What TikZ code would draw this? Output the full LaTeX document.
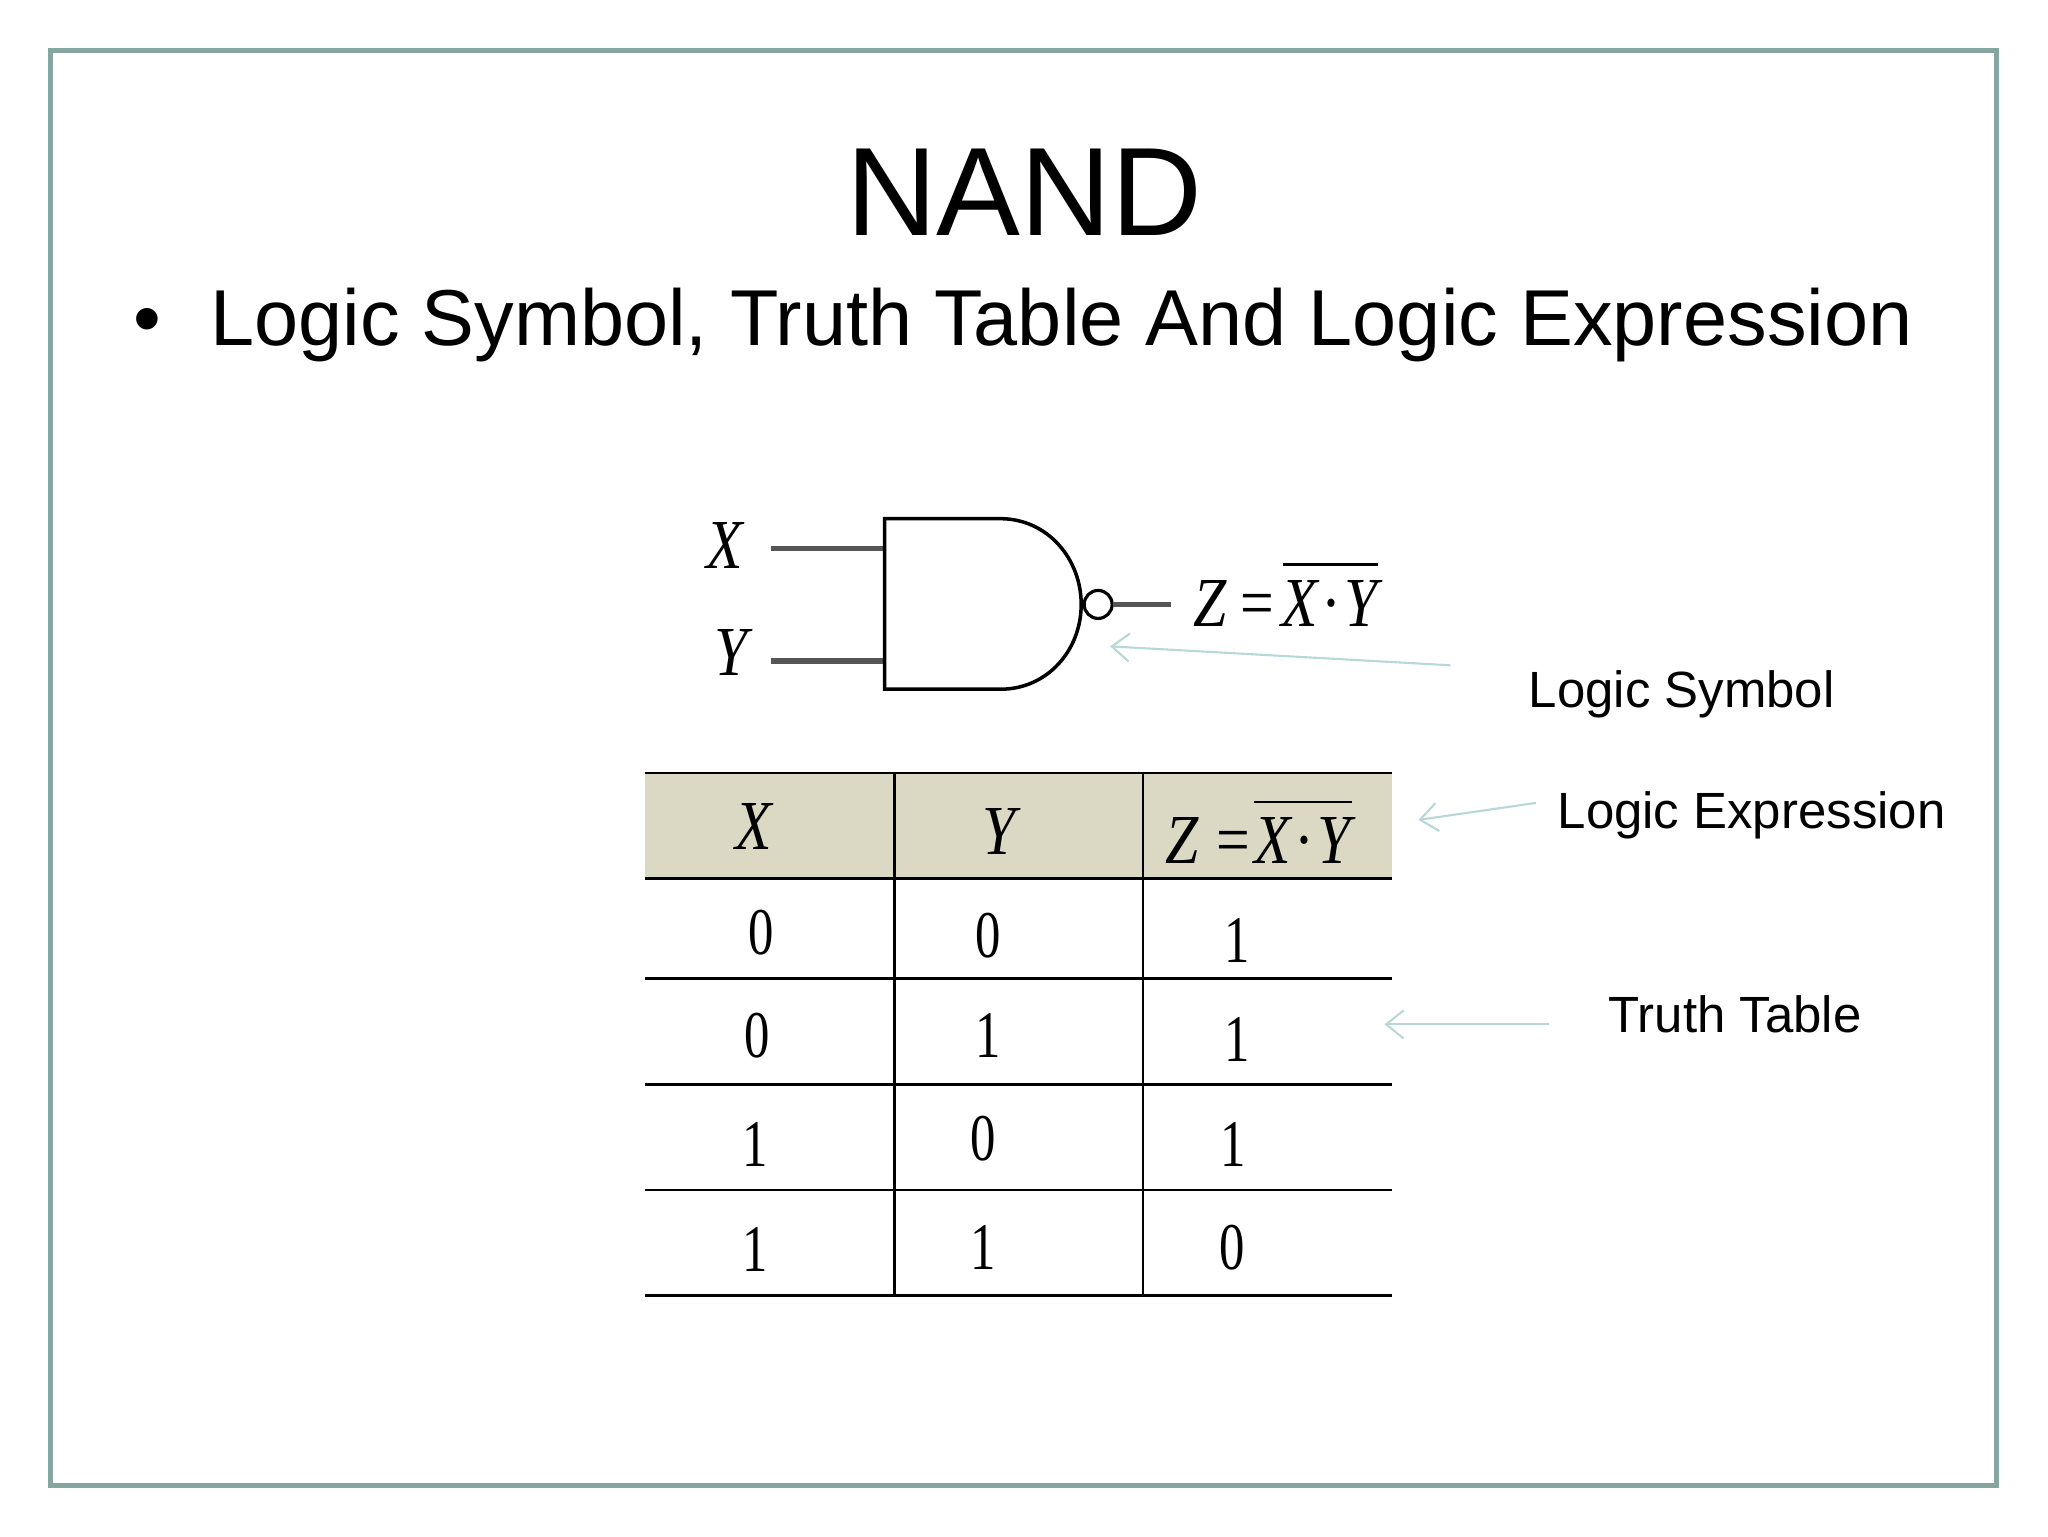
\documentclass[tikz,border=0pt]{standalone}
\usepackage{fontspec}
\setmainfont{Liberation Sans}
\newfontfamily\condfont[FakeStretch=0.85]{Liberation Serif}
\newfontfamily\digitfont[FakeStretch=0.76]{Liberation Serif}
\definecolor{framegreen}{HTML}{86A6A1}
\definecolor{headtan}{HTML}{DBD8C3}
\definecolor{wiregray}{HTML}{555555}
\definecolor{notecyan}{HTML}{B7D8D6}
\tikzset{
  wire/.style={draw=wiregray, line width=1.6pt},
  rule/.style={draw=black, line width=0.8pt},
  note/.style={draw=notecyan, line width=0.6pt, -{Straight Barb[length=5pt,width=8pt]}},
  notetext/.style={anchor=west, inner sep=0pt, font=\fontsize{14.5}{14.5}\selectfont},
  logicvar/.style={inner sep=0pt, font=\condfont\itshape\fontsize{20}{20}\selectfont},
  digit/.style={inner sep=0pt, font=\digitfont\fontsize{19}{19}\selectfont},
}
\usetikzlibrary{arrows.meta}
\begin{document}
\begin{tikzpicture}[x=0.009974cm, y=-0.009974cm]
\useasboundingbox (0,0) rectangle (2053.3,1540);
\draw[framegreen, line width=1.4pt] (51,51) rectangle (2002,1489);

% heading
\node[anchor=base, inner sep=0pt, font=\fontsize{35.8}{35.8}\selectfont] (title) at (1027,236) {NAND};
\node[anchor=base west, inner sep=0pt, font=\fontsize{22.57}{22.57}\selectfont] (subtitle) at (210,346)
  {Logic Symbol, Truth Table And Logic Expression};
\node[anchor=base, inner sep=0pt, font=\fontsize{22.57}{22.57}\selectfont] (bullet) at (148,346) {•};

% gate
\coordinate (in1) at (773,550);
\coordinate (in2) at (773,663);
\coordinate (gate1) at (887,550);
\coordinate (gate2) at (887,663);
\node[circle, draw, line width=0.9pt, minimum size=28*0.2845pt, inner sep=0pt] (bubble) at (1101,606) {};
\coordinate (out) at (1174,606);
\draw[wire] (in1) -- (gate1);
\draw[wire] (in2) -- (gate2);
\draw[wire] (bubble) -- (out);
\draw[line width=1pt] (887,520) -- (1003,520)
  .. controls (1050,520) and (1084,560) .. (1084,606)
  .. controls (1084,652) and (1050,691) .. (1003,691)
  -- (887,691) -- cycle;
\node[logicvar] (xin) at (727,547) {X};
\node[logicvar] (yin) at (733,654) {Y};

% output expression
\node[logicvar, anchor=base west] (zout) at (1196,628) {Z\kern0.2em\upshape=};
\node[logicvar, anchor=base east] (xyout) at (1382,628) {X\kern0.05em{\upshape·}\kern0.05em Y};
\coordinate (barl) at (1286,566);
\coordinate (barr) at (1382,566);
\draw[line width=0.7pt] (barl) -- (barr);

% table
\fill[headtan] (647,775) rectangle (1396,881);
\foreach \rowy in {775,881,981,1087,1193,1299}
  \draw[rule] (647,\rowy) -- (1396,\rowy);
\foreach \colx in {897,1146}
  \draw[rule] (\colx,775) -- (\colx,1299);
\node[logicvar] (xhead) at (756,829) {X};
\node[logicvar] (yhead) at (1002,834) {Y};
\node[logicvar, anchor=base west] (zhead) at (1168,866) {Z\kern0.25em\upshape=};
\node[logicvar, anchor=base east] (xyhead) at (1355,866) {X\kern0.05em{\upshape·}\kern0.05em Y};
\coordinate (hbarl) at (1257,804);
\coordinate (hbarr) at (1355,804);
\draw[line width=0.7pt] (hbarl) -- (hbarr);
\foreach \px/\py/\val in {763/935/0,991/938/0,1240/943/1,
    759/1038/0,991/1038/1,1240/1042/1,
    757/1147/1,986/1142/0,1236/1147/1,
    757/1253/1,986/1251/1,1235/1251/0}
  \node[digit] at (\px,\py) {\val};

% side notes
\node[notetext] (symnote) at (1532,696) {Logic Symbol};
\node[notetext] (exprnote) at (1561,817) {Logic Expression};
\node[notetext] (truthnote) at (1612,1017) {Truth Table};
\coordinate (symtail) at (1454,667);
\coordinate (symhead) at (1113,648);
\coordinate (exprtail) at (1540,805);
\coordinate (exprhead) at (1422,822);
\coordinate (truthtail) at (1553,1027);
\coordinate (truthhead) at (1388,1027);
\draw[note] (symtail) -- (symhead);
\draw[note] (exprtail) -- (exprhead);
\draw[note] (truthtail) -- (truthhead);
\end{tikzpicture}
\end{document}
